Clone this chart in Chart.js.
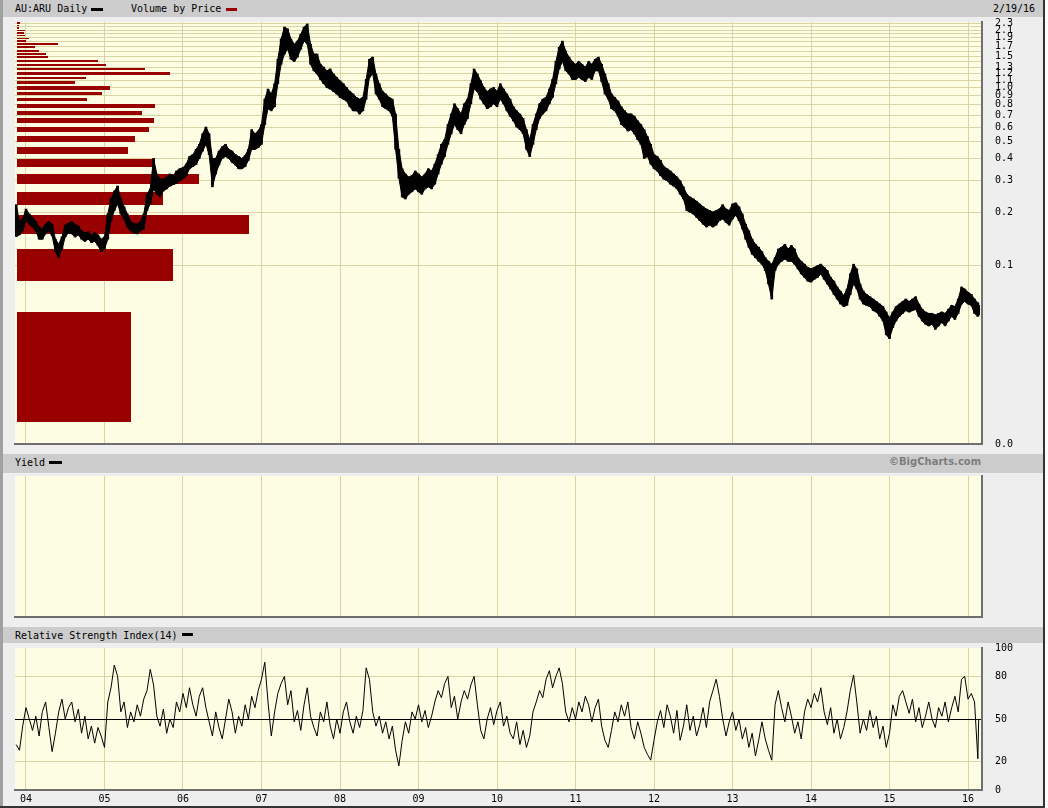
<!DOCTYPE html>
<html><head><meta charset="utf-8">
<script src="https://cdn.jsdelivr.net/npm/chart.js@4.4.1/dist/chart.umd.min.js"></script>
<style>
body{margin:0;background:#fff;}
#frame{position:relative;width:1045px;height:808px;background:#eeeeee;overflow:hidden;font-family:"DejaVu Sans Mono",monospace;font-size:10px;color:#000}
.hb{position:absolute;left:3px;width:1040px;background:#cccccc}
.t{position:absolute;white-space:nowrap;line-height:1}
.sw{position:absolute;height:3px}
canvas{position:absolute;left:0}
</style></head><body>
<div id="frame">
 <div style="position:absolute;left:0;top:0;width:3px;height:808px;background:#a0a0a0"></div>
 <div style="position:absolute;left:1043px;top:0;width:2px;height:808px;background:#333"></div>
 <div style="position:absolute;left:0;top:806px;width:1045px;height:2px;background:#333"></div>
 <div class="hb" style="top:0;height:17px"></div>
 <div class="hb" style="top:454px;height:19px"></div>
 <div class="hb" style="top:627px;height:16px"></div>
 <span class="t" style="left:15px;top:4px">AU:ARU Daily</span>
 <div class="sw" style="left:91px;top:8px;width:12px;background:#000"></div>
 <span class="t" style="left:131px;top:4px">Volume by Price</span>
 <div class="sw" style="left:226px;top:8px;width:11px;background:#990000"></div>
 <span class="t" style="left:993px;top:4px">2/19/16</span>
 <span class="t" style="left:15px;top:458px">Yield</span>
 <div class="sw" style="left:49px;top:461px;width:13px;background:#000"></div>
 <span class="t" style="left:889px;top:457px;font-family:'DejaVu Sans',sans-serif;font-weight:bold;font-size:10px;color:#7c7c7c">©BigCharts.com</span>
 <span class="t" style="left:15px;top:631px">Relative Strength Index(14)</span>
 <div class="sw" style="left:182px;top:633px;width:11px;background:#000"></div>
 <canvas id="c1" width="1045" height="435" style="top:17px"></canvas>
 <canvas id="c2" width="1045" height="152" style="top:473px"></canvas>
 <canvas id="c3" width="1045" height="163" style="top:643px"></canvas>
</div>
<script>
// ---------------- DATA ----------------
const yearTicks = [2004,2005,2006,2007,2008,2009,2010,2011,2012,2013,2014,2015,2016];
const yearLabels = ['04','05','06','07','08','09','10','11','12','13','14','15','16'];

const priceTicks = [0.01,0.1,0.2,0.3,0.4,0.5,0.6,0.7,0.8,0.9,1.0,1.1,1.2,1.3,1.4,1.5,1.6,1.7,1.8,1.9,2.0,2.1,2.2,2.3];
const priceTickLabels = ['0.0','0.1','0.2','0.3','0.4','0.5','0.6','0.7','0.8','0.9','1.0','1.1','1.2','1.3','','1.5','','1.7','','1.9','','2.1','','2.3'];

// sample dates (decimal years, half-month steps), shared by price and RSI
const sampleTime = [
2003.875,2003.917,2003.958,
2004.000,2004.042,2004.083,2004.125,2004.167,2004.208,2004.250,2004.292,2004.333,2004.375,2004.417,2004.458,2004.500,2004.542,2004.583,2004.625,2004.667,2004.708,2004.750,2004.792,2004.833,2004.875,2004.917,2004.958,
2005.000,2005.042,2005.083,2005.125,2005.167,2005.208,2005.250,2005.292,2005.333,2005.375,2005.417,2005.458,2005.500,2005.542,2005.583,2005.625,2005.667,2005.708,2005.750,2005.792,2005.833,2005.875,2005.917,2005.958,
2006.000,2006.042,2006.083,2006.125,2006.167,2006.208,2006.250,2006.292,2006.333,2006.375,2006.417,2006.458,2006.500,2006.542,2006.583,2006.625,2006.667,2006.708,2006.750,2006.792,2006.833,2006.875,2006.917,2006.958,
2007.000,2007.042,2007.083,2007.125,2007.167,2007.208,2007.250,2007.292,2007.333,2007.375,2007.417,2007.458,2007.500,2007.542,2007.583,2007.625,2007.667,2007.708,2007.750,2007.792,2007.833,2007.875,2007.917,2007.958,
2008.000,2008.042,2008.083,2008.125,2008.167,2008.208,2008.250,2008.292,2008.333,2008.375,2008.417,2008.458,2008.500,2008.542,2008.583,2008.625,2008.667,2008.708,2008.750,2008.792,2008.833,2008.875,2008.917,2008.958,
2009.000,2009.042,2009.083,2009.125,2009.167,2009.208,2009.250,2009.292,2009.333,2009.375,2009.417,2009.458,2009.500,2009.542,2009.583,2009.625,2009.667,2009.708,2009.750,2009.792,2009.833,2009.875,2009.917,2009.958,
2010.000,2010.042,2010.083,2010.125,2010.167,2010.208,2010.250,2010.292,2010.333,2010.375,2010.417,2010.458,2010.500,2010.542,2010.583,2010.625,2010.667,2010.708,2010.750,2010.792,2010.833,2010.875,2010.917,2010.958,
2011.000,2011.042,2011.083,2011.125,2011.167,2011.208,2011.250,2011.292,2011.333,2011.375,2011.417,2011.458,2011.500,2011.542,2011.583,2011.625,2011.667,2011.708,2011.750,2011.792,2011.833,2011.875,2011.917,2011.958,
2012.000,2012.042,2012.083,2012.125,2012.167,2012.208,2012.250,2012.292,2012.333,2012.375,2012.417,2012.458,2012.500,2012.542,2012.583,2012.625,2012.667,2012.708,2012.750,2012.792,2012.833,2012.875,2012.917,2012.958,
2013.000,2013.042,2013.083,2013.125,2013.167,2013.208,2013.250,2013.292,2013.333,2013.375,2013.417,2013.458,2013.500,2013.542,2013.583,2013.625,2013.667,2013.708,2013.750,2013.792,2013.833,2013.875,2013.917,2013.958,
2014.000,2014.042,2014.083,2014.125,2014.167,2014.208,2014.250,2014.292,2014.333,2014.375,2014.417,2014.458,2014.500,2014.542,2014.583,2014.625,2014.667,2014.708,2014.750,2014.792,2014.833,2014.875,2014.917,2014.958,
2015.000,2015.042,2015.083,2015.125,2015.167,2015.208,2015.250,2015.292,2015.333,2015.375,2015.417,2015.458,2015.500,2015.542,2015.583,2015.625,2015.667,2015.708,2015.750,2015.792,2015.833,2015.875,2015.917,2015.958,
2016.000,2016.042,2016.083,2016.125,2016.136];

const priceHigh = [
.22,.177,.183,
.208,.195,.187,.177,.165,.161,.171,.177,.171,.141,.132,.145,.169,.173,.177,.171,.167,.157,.153,.155,.149,.153,.149,.141,
.145,.195,.237,.262,.28,.237,.214,.195,.177,.173,.171,.177,.195,.252,.27,.40,.327,.306,.306,.315,.327,.32,.34,.35,
.355,.372,.41,.42,.45,.48,.55,.60,.55,.40,.40,.44,.465,.48,.45,.44,.42,.41,.40,.415,.45,.58,.55,.57,
.62,.86,.98,.92,1.05,1.44,1.87,2.18,2.13,1.87,1.75,1.82,1.99,2.18,2.27,1.75,1.54,1.54,1.35,1.30,1.24,1.27,1.19,1.14,
1.09,1.05,1.0,.95,.92,.88,.86,.88,1.11,1.44,1.48,1.19,1.05,.95,.92,.88,.86,.71,.45,.35,.327,.315,.32,.34,
.327,.315,.327,.35,.34,.372,.42,.48,.51,.62,.71,.81,.76,.71,.81,.86,1.05,1.27,1.19,1.09,1.0,.95,.98,1.0,
.95,1.05,.98,.92,.86,.78,.74,.71,.67,.58,.51,.62,.71,.81,.86,.88,.98,1.11,1.40,1.68,1.82,1.60,1.48,1.40,
1.35,1.40,1.35,1.30,1.40,1.35,1.44,1.48,1.35,1.19,1.05,.92,.88,.84,.78,.74,.71,.71,.69,.65,.62,.58,.53,.48,
.42,.41,.39,.36,.35,.34,.327,.315,.30,.277,.252,.243,.237,.23,.222,.214,.208,.204,.20,.204,.208,.22,.208,.204,
.222,.225,.214,.195,.171,.157,.141,.132,.127,.12,.111,.106,.102,.111,.124,.127,.132,.124,.130,.124,.111,.106,.102,.098,
.096,.098,.10,.102,.098,.094,.086,.082,.076,.072,.068,.074,.09,.102,.096,.079,.072,.069,.067,.065,.063,.061,.059,.055,
.051,.055,.059,.061,.063,.065,.063,.065,.067,.061,.057,.055,.054,.054,.053,.054,.055,.054,.057,.060,.059,.065,.076,.074,
.071,.069,.065,.062,.060];
const priceLow = [
.146,.149,.157,
.179,.171,.165,.157,.141,.141,.151,.157,.147,.12,.111,.124,.145,.153,.151,.145,.149,.141,.137,.141,.135,.137,.130,.12,
.124,.141,.179,.204,.222,.195,.183,.165,.157,.153,.151,.157,.161,.204,.222,.27,.252,.243,.263,.27,.28,.285,.29,.30,
.306,.32,.35,.36,.37,.40,.44,.48,.42,.277,.327,.367,.40,.41,.40,.38,.367,.35,.35,.36,.39,.45,.45,.46,
.48,.62,.76,.74,.78,1.05,1.35,1.54,1.64,1.44,1.40,1.48,1.64,1.82,1.75,1.35,1.24,1.19,1.11,1.05,1.0,.98,.95,.92,
.88,.86,.84,.78,.74,.74,.71,.74,.86,1.14,1.19,.92,.86,.78,.76,.74,.69,.45,.31,.243,.237,.252,.26,.27,
.26,.252,.27,.277,.27,.287,.327,.372,.41,.48,.55,.62,.58,.55,.62,.67,.81,.98,.95,.86,.81,.76,.78,.81,
.78,.86,.81,.74,.69,.65,.60,.58,.55,.45,.41,.48,.58,.67,.71,.74,.81,.88,1.05,1.27,1.40,1.24,1.19,1.11,
1.11,1.14,1.11,1.08,1.14,1.11,1.24,1.24,1.08,.92,.86,.76,.74,.69,.62,.60,.57,.58,.55,.51,.48,.40,.41,.372,
.35,.34,.32,.306,.30,.287,.28,.27,.252,.237,.204,.20,.195,.187,.179,.171,.165,.169,.165,.169,.179,.183,.175,.169,
.183,.192,.179,.161,.141,.127,.116,.111,.106,.102,.094,.079,.065,.094,.102,.106,.109,.106,.106,.102,.096,.09,.086,.082,
.081,.084,.086,.09,.084,.079,.074,.069,.065,.061,.059,.06,.069,.079,.074,.065,.061,.06,.059,.056,.055,.052,.049,.041,
.039,.045,.049,.052,.054,.056,.055,.056,.057,.052,.049,.047,.046,.047,.044,.046,.048,.046,.049,.052,.050,.054,.061,.063,
.061,.060,.054,.052,.053];

// Volume by price: bucket mid prices and relative volume
const vbpPrice = [0.034,0.103,0.171,0.240,0.308,0.377,0.446,0.514,0.583,0.651,0.720,0.789,0.857,0.926,0.994,1.063,1.132,1.200,1.269,1.337,1.406,1.475,1.543,1.612,1.680,1.749,1.818,1.886,1.955,2.023,2.092,2.161,2.229,2.298];
const vbpVolume = [114,156,232,146,182,136,111,118,132,137,125,138,70,85,93,58,69,153,128,89,81,31,29,22,18,41,9,12,8,7,8,2,2,3];

// RSI(14)
const rsiValue = [
32,28,45,
58,50,42,52,38,55,62,44,27,40,55,64,50,58,62,48,57,40,52,36,45,33,44,38,
30,62,72,88,80,55,62,44,55,48,60,52,64,70,85,74,52,45,57,40,50,44,62,55,
68,58,72,60,52,66,72,58,48,38,55,44,36,50,64,55,40,52,45,60,50,66,58,70,
78,90,62,38,55,68,75,80,60,70,48,56,42,60,72,52,44,38,55,48,62,45,36,50,
40,55,62,48,40,52,44,56,86,78,55,45,52,40,48,36,45,28,17,35,48,40,55,50,
60,48,56,44,52,62,70,65,75,80,58,66,50,62,70,64,74,80,60,42,36,50,58,46,
56,62,45,52,40,36,48,32,42,30,38,55,62,70,65,78,84,72,80,86,75,55,48,58,
50,62,55,66,60,48,58,64,45,35,30,42,55,48,60,52,62,44,36,48,40,30,25,21,
35,48,56,44,60,52,40,56,35,45,60,42,52,38,46,58,44,62,70,78,66,50,38,48,
55,42,50,36,44,30,40,24,35,48,36,28,21,60,70,58,48,62,52,40,48,36,55,64,
58,68,62,72,55,46,58,40,50,36,44,55,70,81,62,40,50,42,56,44,52,36,45,30,
40,60,52,66,70,62,54,64,48,58,44,52,62,50,44,58,52,62,48,58,66,55,78,80,
64,68,62,22,50];
const rsiTicks = [0,20,50,80,100];

// ---------------- CHARTS ----------------
const CREAM='#fdfde4', GRID='#d8d5a2', BORDER='#6e6e6e';
const XMIN=2003.86, XMAX=2016.178;
Chart.defaults.font.family="'DejaVu Sans Mono', monospace";
Chart.defaults.font.size=10;
Chart.defaults.color='#000';
Chart.defaults.animation=false;

const bgPlugin={id:'bg',beforeDraw(c){const a=c.chartArea,x=c.ctx;x.save();x.fillStyle=CREAM;x.fillRect(a.left,a.top,a.width,a.height);x.restore();}};
const vbpPlugin={id:'vbp',beforeDatasetsDraw(c){
  const a=c.chartArea,ctx=c.ctx,y=c.scales.y,xv=c.scales.xv;
  ctx.save();ctx.beginPath();ctx.rect(a.left,a.top,a.width,a.height);ctx.clip();ctx.fillStyle='#990000';
  for(let i=0;i<vbpPrice.length;i++){
    const step=i<vbpPrice.length-1?vbpPrice[i+1]-vbpPrice[i]:vbpPrice[i]-vbpPrice[i-1];
    const y1=Math.round(y.getPixelForValue(vbpPrice[i]+step*0.3)), y2=Math.round(y.getPixelForValue(vbpPrice[i]-step*0.3));
    const x1=Math.round(xv.getPixelForValue(0)), x2=Math.round(xv.getPixelForValue(vbpVolume[i]));
    ctx.fillRect(x1,y1,x2-x1,Math.max(1,y2-y1));
  }
  ctx.restore();}};

function noPad(s){s.paddingTop=0;s.paddingBottom=0;s.paddingLeft=0;s.paddingRight=0;}
function xScale(showLabels,h){
  return {type:'linear',position:'bottom',min:XMIN,max:XMAX,offset:false,
    afterBuildTicks:s=>{s.ticks=yearTicks.map(v=>({value:v}));},
    afterFit:s=>{s.height=h;noPad(s);},
    grid:{color:GRID,lineWidth:1,drawTicks:false,offset:false},
    border:{display:true,color:BORDER,width:2},
    ticks:{display:showLabels,autoSkip:false,maxRotation:0,padding:3,callback:(v,i)=>yearLabels[i]}};
}
const common={responsive:false,devicePixelRatio:1,plugins:{legend:{display:false},tooltip:{enabled:false}}};

// Price chart: high-low range bars over a filled high/low band
new Chart(document.getElementById('c1'),{
  type:'line',
  data:{datasets:[
    {type:'bar',data:sampleTime.map((t,i)=>({x:t,y:[priceLow[i],priceHigh[i]]})),backgroundColor:'#000',borderWidth:0,barThickness:2,grouped:false},
    {data:sampleTime.map((t,i)=>({x:t,y:priceHigh[i]})),borderColor:'#000',backgroundColor:'#000',borderWidth:1,pointRadius:0,fill:'+1',tension:0},
    {data:sampleTime.map((t,i)=>({x:t,y:priceLow[i]})),borderColor:'#000',borderWidth:1,pointRadius:0,fill:false,tension:0}
  ]},
  options:{...common,
    layout:{padding:{left:15,top:5,right:0,bottom:8}},
    scales:{
      x:xScale(false,0),
      xv:{type:'linear',axis:'x',position:'top',display:false,min:-2,max:965},
      y:{type:'logarithmic',position:'right',min:0.01,max:2.33,
        afterBuildTicks:s=>{s.ticks=priceTicks.map(v=>({value:v}));},
        afterFit:s=>{s.width=63;noPad(s);},
        grid:{drawTicks:false,lineWidth:1,color:c=>c.tick&&c.tick.value===0.01?'rgba(0,0,0,0)':GRID},
        border:{display:true,color:BORDER,width:2},
        ticks:{autoSkip:false,padding:13,callback:(v,i)=>priceTickLabels[i]}}
    }},
  plugins:[bgPlugin,vbpPlugin]
});

// Yield chart (empty panel)
new Chart(document.getElementById('c2'),{
  type:'line',data:{datasets:[{data:[]}]},
  options:{...common,
    layout:{padding:{left:15,top:3,right:0,bottom:8}},
    scales:{x:xScale(false,0),
      y:{type:'linear',position:'right',min:0,max:1,afterFit:s=>{s.width=63;noPad(s);},
        grid:{display:false},border:{display:true,color:BORDER,width:2},ticks:{display:false}}}},
  plugins:[bgPlugin]
});

// RSI chart
new Chart(document.getElementById('c3'),{
  type:'line',
  data:{datasets:[{data:sampleTime.map((t,i)=>({x:t,y:rsiValue[i]})),borderColor:'#000',borderWidth:1,pointRadius:0,tension:0}]},
  options:{...common,
    layout:{padding:{left:15,top:5,right:0,bottom:0}},
    scales:{x:xScale(true,16),
      y:{type:'linear',position:'right',min:0,max:100,
        afterBuildTicks:s=>{s.ticks=rsiTicks.map(v=>({value:v}));},
        afterFit:s=>{s.width=63;noPad(s);},
        grid:{drawTicks:false,lineWidth:1,color:c=>{const v=c.tick&&c.tick.value;return v===50?'#000':(v===20||v===80)?GRID:'rgba(0,0,0,0)';}},
        border:{display:true,color:BORDER,width:2},
        ticks:{autoSkip:false,padding:13}}}},
  plugins:[bgPlugin]
});
</script>
</body></html>
